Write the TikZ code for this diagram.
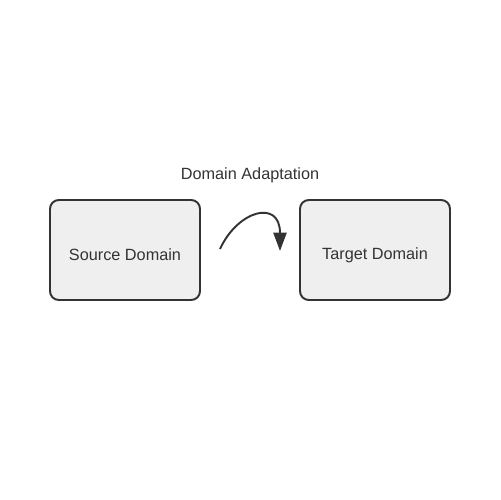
\documentclass[tikz,border=0pt]{standalone}
\usepackage{fontspec}
\setmainfont{Liberation Sans}
\usepackage{tikz}
\usetikzlibrary{arrows.meta}
\usetikzlibrary{positioning}

\definecolor{boxfill}{HTML}{EFEFEF}
\definecolor{inkgray}{HTML}{333333}

\tikzset{
    domainbox/.style={draw=inkgray, fill=boxfill, line width=1.1pt, rounded corners=5pt,
        minimum width=3cm, minimum height=2cm, inner sep=0pt},
    domaintext/.style={text=inkgray, inner sep=0pt, font=\fontsize{9.25pt}{11pt}\selectfont},
    adaptlink/.style={draw=inkgray, line width=1.1pt, -{Triangle[length=10.5pt, width=7.5pt]}}
}

\begin{document}
\begin{tikzpicture}[x=0.02cm, y=-0.02cm]

        \useasboundingbox (0,0) rectangle (500,500);

        \node[domainbox] (source) at (125,250) {};
        \node[domainbox] (target) at (375,250) {};

        \node[domaintext] (sourcetext) at (125,255) {Source Domain};
        \node[domaintext] (targettext) at (375,255) {Target Domain};
        \node[domaintext] (title) at (250,175) {Domain Adaptation};

        \coordinate (start) at (220,249);
        \coordinate (finish) at (280,251);

        \path[adaptlink] (start) .. controls (238,210) and (280,199) .. (finish);

    \end{tikzpicture}
\end{document}
